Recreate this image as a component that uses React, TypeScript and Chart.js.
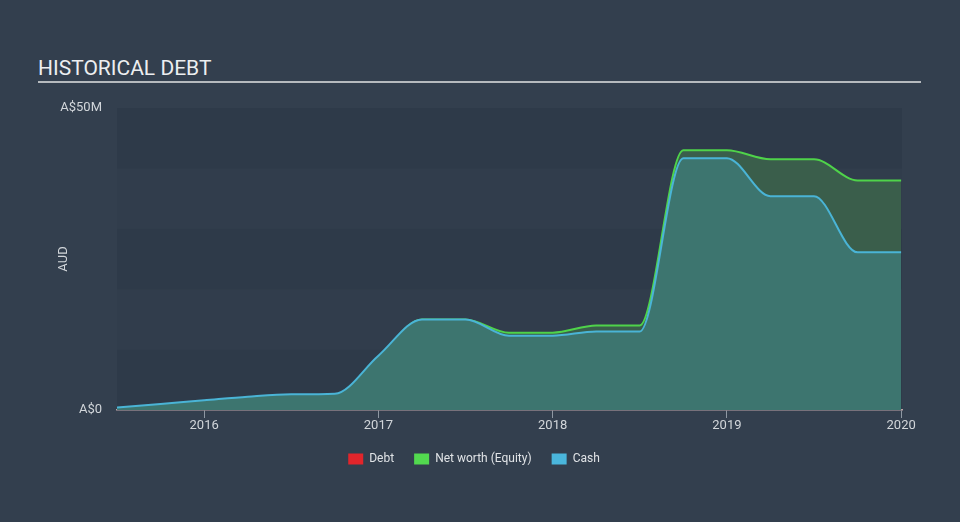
import React, { useEffect, useRef } from "react";
import { Chart, registerables } from "chart.js";

Chart.register(...registerables);

// ---- data (values in millions of AUD) ----
const years = [
  2015.5, 2015.75, 2016, 2016.25, 2016.5, 2016.75, 2017, 2017.25, 2017.5, 2017.75,
  2018, 2018.25, 2018.5, 2018.75, 2019, 2019.25, 2019.5, 2019.75, 2020,
];
const cashM = [
  0.4, 1.0, 1.6, 2.2, 2.6, 2.7, 9.0, 15.0, 15.0, 12.3,
  12.3, 13.0, 13.0, 41.7, 41.7, 35.4, 35.4, 26.1, 26.1,
];
const equityM = [
  0.2, 0.7, 1.3, 1.9, 2.3, 2.4, 8.7, 15.0, 15.0, 12.8,
  12.8, 14.0, 14.0, 43.0, 43.0, 41.5, 41.5, 38.0, 38.0,
];
const debtM: number[] = [];
const xTickYears = [2016, 2017, 2018, 2019, 2020];
const yTickValuesM = [0, 10, 20, 30, 40, 50];
const yTickLabels = ["A$0", "", "", "", "", "A$50M"];
const legendLabels = ["Debt", "Net worth (Equity)", "Cash"];
const legendColors = ["#e2252b", "#52d94f", "#4ab6dc"];

const FONT = "Roboto, 'Noto Sans', sans-serif";

const bandsPlugin = {
  id: "bands",
  beforeDraw(chart: any) {
    const { ctx, chartArea } = chart;
    const y = chart.scales.y;
    ctx.save();
    for (let i = 0; i < yTickValuesM.length - 1; i++) {
      const top = y.getPixelForValue(yTickValuesM[i + 1] * 1e6);
      const bot = y.getPixelForValue(yTickValuesM[i] * 1e6);
      ctx.fillStyle = i % 2 === 0 ? "#2e3a49" : "#313d4c";
      ctx.fillRect(chartArea.left, top, chartArea.right - chartArea.left, bot - top);
    }
    ctx.restore();
  },
};

const legendShiftPlugin = {
  id: "legendShift",
  afterLayout(chart: any) {
    const lg = chart.legend;
    if (lg) {
      lg.left += 23;
      lg.right += 23;
    }
  },
};

export default function App() {
  const ref = useRef<HTMLCanvasElement | null>(null);

  useEffect(() => {
    document.body.style.margin = "0";
    const canvas = ref.current;
    if (!canvas) return;
    const toPts = (vals: number[]) => vals.map((v, i) => ({ x: years[i], y: v * 1e6 }));
    const chart = new Chart(canvas, {
      type: "line",
      data: {
        datasets: [
          {
            label: legendLabels[0],
            data: toPts(debtM),
            borderColor: legendColors[0],
            backgroundColor: legendColors[0],
            borderWidth: 2,
            pointRadius: 0,
            fill: false,
          },
          {
            label: legendLabels[1],
            data: toPts(equityM),
            borderColor: "#4fd34a",
            backgroundColor: "#3a5e4b",
            borderWidth: 2,
            pointRadius: 0,
            cubicInterpolationMode: "monotone",
            fill: 2,
            order: 1,
          },
          {
            label: legendLabels[2],
            data: toPts(cashM),
            borderColor: "#4ab4d6",
            backgroundColor: "#3d756f",
            borderWidth: 2,
            pointRadius: 0,
            cubicInterpolationMode: "monotone",
            fill: "origin",
            order: 0,
          },
        ],
      },
      options: {
        animation: false,
        responsive: false,
        maintainAspectRatio: false,
        layout: { padding: { left: 0, right: 58, top: 108, bottom: 47 } },
        scales: {
          x: {
            type: "linear",
            min: 2015.5,
            max: 2020.005,
            afterBuildTicks: (scale: any) => {
              scale.ticks = xTickYears.map((v) => ({ value: v }));
            },
            afterFit: (scale: any) => {
              scale.height = 23;
            },
            ticks: {
              color: "#d2d6da",
              font: { family: FONT, size: 13 },
              padding: 0,
              maxRotation: 0,
              callback: (v: any) => String(v),
            },
            grid: {
              display: true,
              drawOnChartArea: false,
              drawTicks: true,
              tickLength: 8,
              color: "#8e98a3",
              lineWidth: 1,
            },
            border: { display: true, color: "#bda4a8", width: 1.5 },
          },
          y: {
            type: "linear",
            min: 0,
            max: 50e6,
            afterBuildTicks: (scale: any) => {
              scale.ticks = yTickValuesM.map((v) => ({ value: v * 1e6 }));
            },
            afterFit: (scale: any) => {
              scale.width = 117;
            },
            ticks: {
              color: "#d2d6da",
              font: { family: FONT, size: 13 },
              padding: 7,
              callback: (_v: any, i: number) => yTickLabels[i],
            },
            grid: { display: false },
            border: { display: false },
            title: {
              display: true,
              text: "AUD",
              color: "#d2d6da",
              font: { family: FONT, size: 13 },
              padding: { top: 56, bottom: 0 },
            },
          },
        },
        plugins: {
          tooltip: { enabled: false },
          legend: {
            display: true,
            position: "bottom",
            labels: {
              boxWidth: 15,
              boxHeight: 11,
              padding: 20,
              color: "#e0e3e6",
              font: { family: FONT, size: 12 },
              generateLabels: () =>
                legendLabels.map((t, i) => ({
                  text: t,
                  fillStyle: legendColors[i],
                  strokeStyle: legendColors[i],
                  lineWidth: 0,
                  fontColor: "#e0e3e6",
                  hidden: false,
                  datasetIndex: i,
                })),
            },
          },
        },
      },
      plugins: [bandsPlugin, legendShiftPlugin],
    } as any);
    return () => chart.destroy();
  }, []);

  return (
    <div
      style={{
        position: "fixed",
        left: 0,
        top: 0,
        width: 960,
        height: 522,
        background: "#333f4e",
        overflow: "hidden",
      }}
    >
      <div
        style={{
          position: "absolute",
          left: 38,
          top: 56,
          fontFamily: FONT,
          fontSize: 21,
          lineHeight: "24px",
          color: "#eceef0",
          whiteSpace: "nowrap",
        }}
      >
        HISTORICAL DEBT
      </div>
      <div
        style={{
          position: "absolute",
          left: 38,
          top: 81,
          width: 883,
          height: 2,
          background: "#b6babe",
        }}
      />
      <canvas
        ref={ref}
        width={960}
        height={522}
        style={{ position: "absolute", left: 0, top: 0, width: 960, height: 522 }}
      />
    </div>
  );
}
